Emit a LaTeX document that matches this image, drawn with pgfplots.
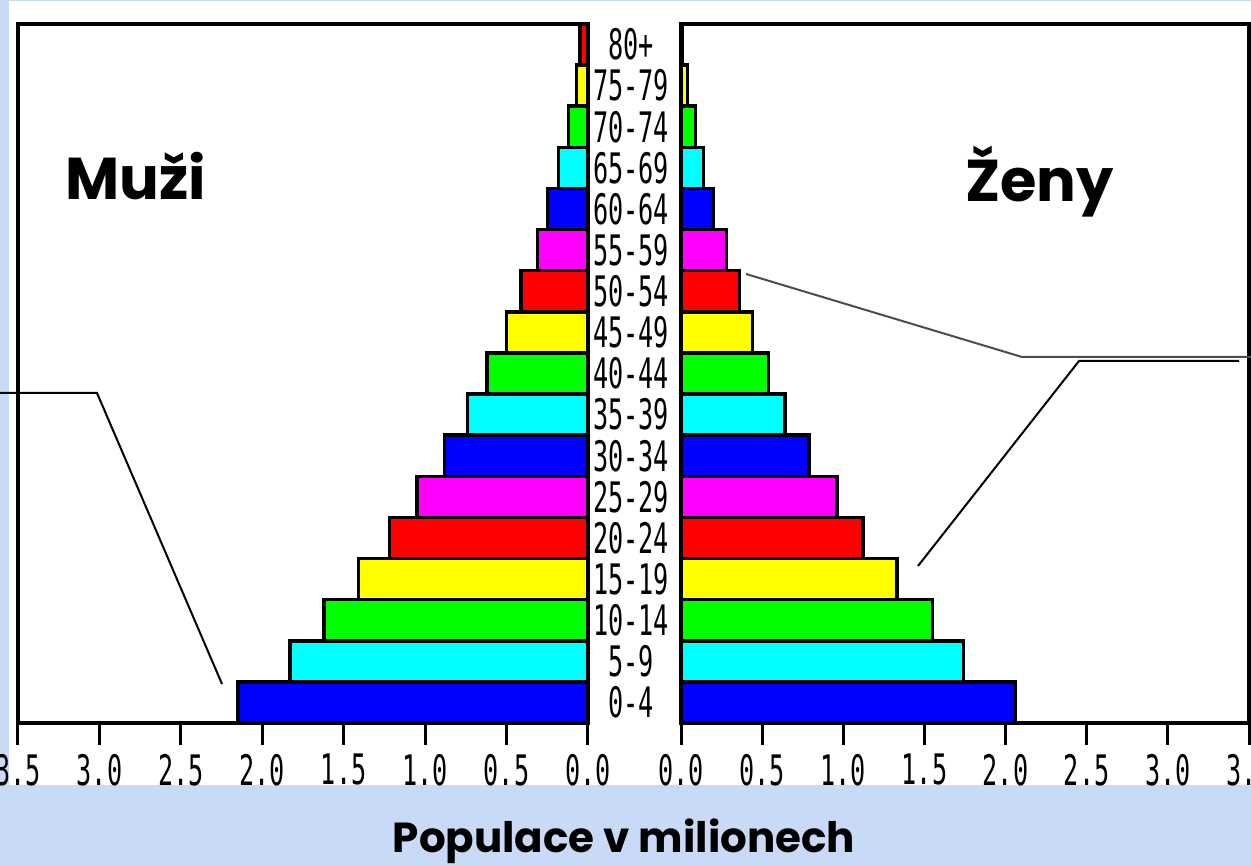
\documentclass[border=0pt]{standalone}
\usepackage{pgfplots}
\pgfplotsset{compat=1.18}
\usepackage{fontspec}
\setmainfont{Poppins}
\newfontfamily\pix[FakeStretch=0.6]{DejaVu Sans Mono}
\definecolor{bgblue}{RGB}{200,218,245}
\definecolor{cy}{RGB}{0,255,255}
\definecolor{mg}{RGB}{255,0,255}
\definecolor{gr}{RGB}{0,255,0}
\definecolor{bl}{RGB}{0,0,255}
\definecolor{ye}{RGB}{255,255,0}
\definecolor{rd}{RGB}{255,0,0}
\pgfplotsset{
  pyr/.style={
    scale only axis, anchor=south west,
    height=699pt,
    xmin=0, xmax=3.5, ymin=-0.5, ymax=16.5,
    xtick={0,0.5,1,1.5,2,2.5,3,3.5},
    tick align=outside, xtick pos=bottom,
    major tick length=22pt,
    axis line style={line width=3.8pt},
    every tick/.style={line width=3pt, black},
    xticklabel style={font=\pix\fontsize{42}{46}\selectfont, inner sep=0pt, anchor=north, yshift=-9pt},
    clip=false,
    /pgf/number format/.cd, fixed, fixed zerofill, precision=1, assume math mode=true
  },
  bb/.style={xbar, bar shift=0pt, bar width=1, draw=black, line width=3.5pt, fill=#1}
}
\begin{document}
\begin{tikzpicture}[x=1pt,y=1pt]
\useasboundingbox (0,0) rectangle (1251,866);
\fill[bgblue] (0,0) rectangle (1251,866);
\fill[white] (9,81) rectangle (1251,865);
% Men
\begin{axis}[pyr, at={(18pt,143pt)}, width=570pt, x dir=reverse, ytick=\empty]
\addplot[bb=bl] coordinates {(2.15,0) (0.88,6) (0.25,12)};
\addplot[bb=cy] coordinates {(1.83,1) (0.74,7) (0.18,13)};
\addplot[bb=gr] coordinates {(1.62,2) (0.62,8) (0.12,14)};
\addplot[bb=ye] coordinates {(1.41,3) (0.50,9) (0.07,15)};
\addplot[bb=rd] coordinates {(1.22,4) (0.41,10) (0.05,16)};
\addplot[bb=mg] coordinates {(1.05,5) (0.31,11)};
\end{axis}
% Women
\begin{axis}[pyr, at={(681pt,143pt)}, width=568pt,
  ytick={0,...,16},
  yticklabels={0-4,5-9,10-14,15-19,20-24,25-29,30-34,35-39,40-44,45-49,50-54,55-59,60-64,65-69,70-74,75-79,80+},
  ytick style={draw=none}, yticklabel pos=left,
  yticklabel style={font=\pix\fontsize{42}{46}\selectfont, anchor=center, inner sep=0pt, xshift=-28pt}]
\addplot[bb=bl] coordinates {(2.06,0) (0.79,6) (0.20,12)};
\addplot[bb=cy] coordinates {(1.74,1) (0.64,7) (0.14,13)};
\addplot[bb=gr] coordinates {(1.55,2) (0.54,8) (0.09,14)};
\addplot[bb=ye] coordinates {(1.33,3) (0.44,9) (0.04,15)};
\addplot[bb=rd] coordinates {(1.12,4) (0.36,10) (0.01,16)};
\addplot[bb=mg] coordinates {(0.96,5) (0.28,11)};
\end{axis}
% annotation lines
\draw[line width=2pt] (0,473) -- (97,473) -- (222,182);
\draw[line width=2pt, black!70] (746,592) -- (1022,509) -- (1251,509);
\draw[line width=2pt] (918,300) -- (1079,505) -- (1239,505);
% labels
\node[anchor=base west, inner sep=0pt, font=\bfseries\fontsize{59}{66}\selectfont] at (65,666) {Muži};
\node[anchor=base west, inner sep=0pt, font=\bfseries\fontsize{59}{66}\selectfont] at (965,664) {Ženy};
\node[anchor=base, inner sep=0pt, font=\bfseries\fontsize{42}{48}\selectfont] at (624,13) {Populace v milionech};
\end{tikzpicture}
\end{document}
